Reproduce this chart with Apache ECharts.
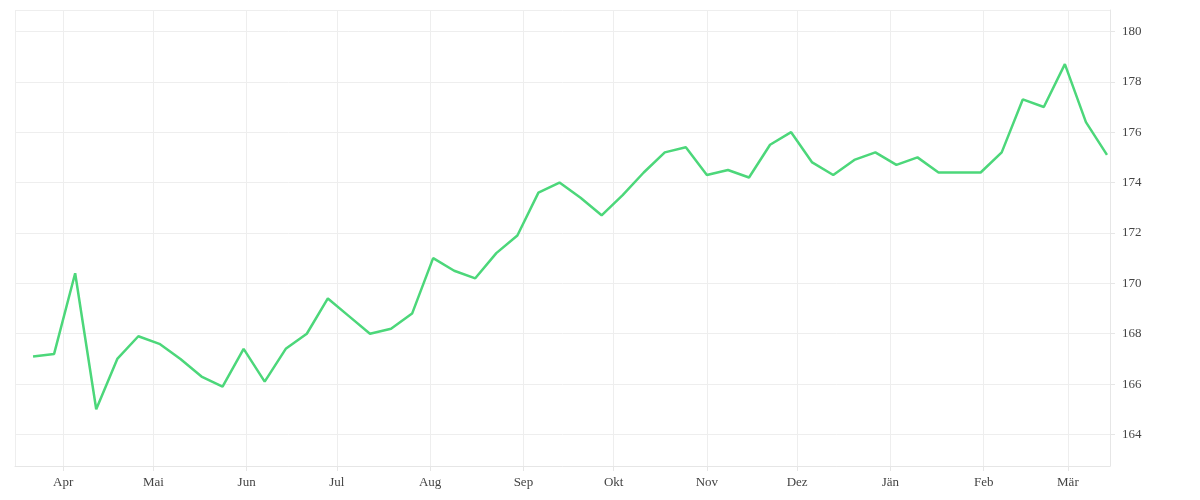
<!DOCTYPE html>
<html><head><meta charset="utf-8">
<script src="https://cdn.jsdelivr.net/npm/echarts@6/dist/echarts.min.js"></script>
<style>html,body{margin:0;padding:0;background:#fff}#c{width:1200px;height:500px}</style>
</head><body><div id="c"></div>
<script>
const startDate = '2022-03-22';
const values = [167.1,167.2,170.4,165.0,167.0,167.9,167.6,167.0,166.3,165.9,167.4,166.1,167.4,168.0,169.4,168.7,168.0,168.2,168.8,171.0,170.5,170.2,171.2,171.9,173.6,174.0,173.4,172.7,173.5,174.4,175.2,175.4,174.3,174.5,174.2,175.5,176.0,174.8,174.3,174.9,175.2,174.7,175.0,174.4,174.4,174.4,175.2,177.3,177.0,178.7,176.4,175.1];
const monthNames = ['Jän','Feb','Mär','Apr','Mai','Jun','Jul','Aug','Sep','Okt','Nov','Dez'];
const t0 = Date.parse(startDate+'T00:00:00Z');
const data = values.map((v,i)=>[t0 + i*7*86400000, v]);
const chart = echarts.init(document.getElementById('c'));
const font = 'Liberation Serif';
chart.setOption({
  animation:false,
  grid:{left:15,right:90,top:10,bottom:34},
  xAxis:{type:'time',min:Date.parse('2022-03-16T00:00:00Z'),max:Date.parse('2023-03-15T00:00:00Z'),
    minInterval:28*86400000,maxInterval:31*86400000,
    axisLine:{show:true,lineStyle:{color:'#e6e6e6'}},
    axisTick:{show:true,length:5,lineStyle:{color:'#e6e6e6'}},
    splitLine:{show:true,lineStyle:{color:'#eeeeee'}},
    axisLabel:{color:'#444',fontFamily:font,fontSize:13,margin:10,
      formatter:v=>monthNames[new Date(v).getUTCMonth()]}},
  yAxis:{type:'value',position:'right',min:162.75,max:180.85,splitNumber:9,
    axisLine:{show:true,lineStyle:{color:'#e6e6e6'}},
    axisTick:{show:true,length:5,lineStyle:{color:'#e6e6e6'}},
    splitLine:{show:true,lineStyle:{color:'#eeeeee'}},
    axisLabel:{color:'#444',fontFamily:font,fontSize:13,margin:12,
      showMinLabel:false,showMaxLabel:false}},
  series:[{type:'line',data:data,symbol:'none',lineStyle:{color:'#4cd77a',width:2.5},itemStyle:{color:'#4cd77a'}}]
});
</script></body></html>
